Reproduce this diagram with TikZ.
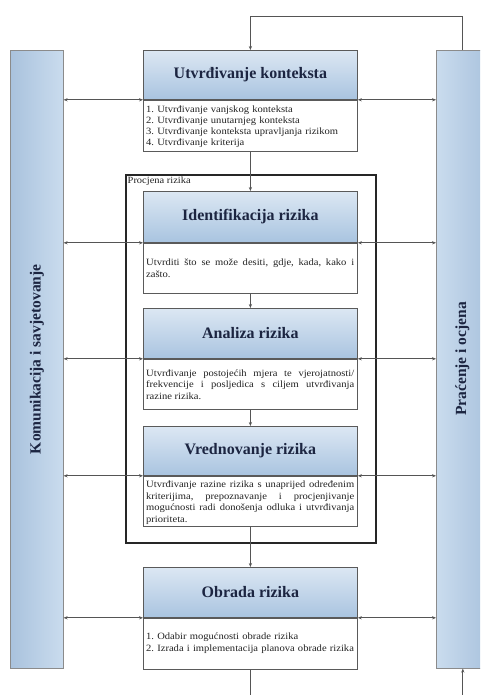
\documentclass[tikz,border=0pt]{standalone}
\usepackage{fontspec}
\setmainfont{Liberation Serif}
\newfontfamily\bodyfont[FakeStretch=1.1]{Liberation Serif}
\usetikzlibrary{arrows.meta}
\frenchspacing
\definecolor{hdrtop}{HTML}{DCE7F3}
\definecolor{hdrbot}{HTML}{A9C4E0}
\definecolor{bardark}{HTML}{A9C2DD}
\definecolor{barlight}{HTML}{CADCEE}
\definecolor{ttl}{HTML}{1C2541}
\definecolor{bordr}{HTML}{5A5A5A}
\definecolor{conn}{HTML}{555555}
\definecolor{bodytext}{HTML}{222222}
\tikzset{
  hdr/.style={draw=bordr, line width=0.8pt, top color=hdrtop, bottom color=hdrbot,
    minimum width=214pt, anchor=north west, inner sep=0pt,
    font=\fontsize{16}{18}\selectfont\bfseries, text=ttl},
  bodybox/.style={draw=bordr, line width=0.8pt, fill=white, minimum width=214pt,
    anchor=north west, inner sep=0pt},
  bodytxt/.style={anchor=north west, inner sep=0pt, text width=208pt,
    font=\bodyfont\fontsize{9.6}{11.5}\selectfont\frenchspacing, text=bodytext},
  sidebar/.style={draw=bordr!70, line width=0.6pt, minimum width=53pt, minimum height=618pt,
    anchor=north west, inner sep=0pt},
  sidetxt/.style={rotate=90, font=\fontsize{15.5}{18}\selectfont\bfseries, text=ttl},
  link/.style={draw=conn, line width=0.8pt},
  tip/.style={-{Stealth[length=4pt,width=3.2pt]}},
  dtip/.style={{Stealth[length=4pt,width=3.2pt]}-{Stealth[length=4pt,width=3.2pt]}}
}
\begin{document}
\begin{tikzpicture}[x=1pt,y=1pt]
\useasboundingbox (0,0) rectangle (480,-695);
\clip (0,0) rectangle (480,-695);
\fill[white] (0,0) rectangle (480,-695);

% side bars
\node[sidebar, left color=bardark, right color=barlight] (L) at (10,-50) {};
\node[sidebar, left color=barlight, right color=bardark] (R) at (436,-50) {};
\node[sidetxt] (Lt) at (L.center) {Komunikacija i savjetovanje};
\node[sidetxt] (Rt) at (462.5,-359) {Praćenje i ocjena};

% frame
\node[draw=black!85, line width=1.6pt, minimum width=250pt, minimum height=368pt,
  anchor=north west, inner sep=0pt] (frame) at (125,-174) {};
\node[anchor=north west, inner sep=0pt, font=\bodyfont\fontsize{9.5}{10}\selectfont, text=bodytext]
  (frlbl) at (127.5,-177) {Procjena rizika};

% box 1
\node[hdr, minimum height=49pt] (h1) at (143,-50) {Utvrđivanje konteksta};
\node[bodybox, minimum height=51pt] (b1) at (h1.south west) {};
\node[bodytxt, align=left, font=\bodyfont\fontsize{9.6}{11}\selectfont] (t1) at ([xshift=3pt,yshift=-6pt]b1.north west)
  {1. Utvrđivanje vanjskog konteksta\\
   2. Utvrđivanje unutarnjeg konteksta\\
   3. Utvrđivanje konteksta upravljanja rizikom\\
   4. Utvrđivanje kriterija};

% box 2
\node[hdr, minimum height=51pt] (h2) at (143,-191) {Identifikacija rizika};
\node[bodybox, minimum height=50pt] (b2) at (h2.south west) {};
\node[bodytxt, align=justify] (t2) at ([xshift=3pt,yshift=-16pt]b2.north west)
  {Utvrditi što se može desiti, gdje, kada, kako i\linebreak zašto.};

% box 3
\node[hdr, minimum height=50pt] (h3) at (143,-308) {Analiza rizika};
\node[bodybox, minimum height=50pt] (b3) at (h3.south west) {};
\node[bodytxt, align=justify] (t3) at ([xshift=3pt,yshift=-10.5pt]b3.north west)
  {Utvrđivanje postojećih mjera te vjerojatnosti/\linebreak frekvencije i posljedica s ciljem utvrđivanja\linebreak razine rizika.};

% box 4
\node[hdr, minimum height=49pt] (h4) at (143,-426) {Vrednovanje rizika};
\node[bodybox, minimum height=50pt] (b4) at (h4.south west) {};
\node[bodytxt, align=justify] (t4) at ([xshift=3pt,yshift=-5pt]b4.north west)
  {Utvrđivanje razine rizika s unaprijed određenim\linebreak kriterijima, prepoznavanje i procjenjivanje\linebreak mogućnosti radi donošenja odluka i utvrđivanja\linebreak prioriteta.};

% box 5
\node[hdr, minimum height=50pt] (h5) at (143,-567) {Obrada rizika};
\node[bodybox, minimum height=51pt] (b5) at (h5.south west) {};
\node[bodytxt, align=left, font=\bodyfont\fontsize{9.6}{12}\selectfont] (t5) at ([xshift=3pt,yshift=-15pt]b5.north west)
  {1. Odabir mogućnosti obrade rizika\\
   2. Izrada i implementacija planova obrade rizika};

% vertical flow
\draw[link, tip] (b1.south) -- (h2.north);
\draw[link, tip] (b2.south) -- (h3.north);
\draw[link, tip] (b3.south) -- (h4.north);
\draw[link, tip] (b4.south) -- (h5.north);

% top feedback loop
\draw[link, tip] (R.north) |- ([yshift=34pt]h1.north) -- (h1.north);

% bottom loop ends
\coordinate (bO) at ([yshift=-30pt]b5.south);
\coordinate (bR) at ([yshift=-30pt]R.south);
\draw[link] (b5.south) -- (bO);
\draw[link, tip] (bR) -- (R.south);

% horizontal double arrows
\foreach \h in {h1,h2,h3,h4,h5}{
  \draw[link, dtip] (L.east |- \h.south west) -- (\h.south west);
  \draw[link, dtip] (\h.south east) -- (R.west |- \h.south east);
}
\end{tikzpicture}
\end{document}
